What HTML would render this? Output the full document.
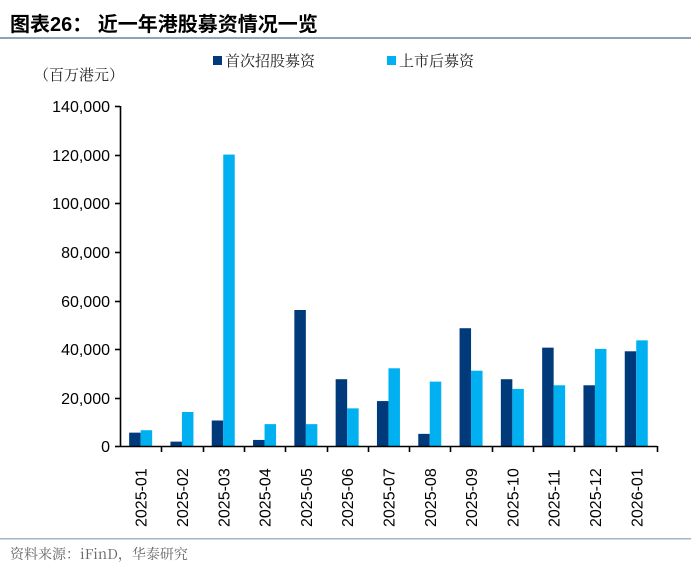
<!DOCTYPE html>
<html><head><meta charset="utf-8"><style>
html,body{margin:0;padding:0;background:#fff;}
svg{display:block;font-family:"Liberation Sans","Noto Sans CJK SC",sans-serif;}
</style></head><body>
<svg width="691" height="575" viewBox="0 0 691 575" xmlns="http://www.w3.org/2000/svg">
<text x="10" y="31" font-size="20" font-weight="bold" fill="#000" font-family="'Liberation Sans','Noto Sans CJK SC',sans-serif">图表26：  近一年港股募资情况一览</text>
<rect x="0" y="37" width="691" height="2" fill="#8EA2BC"/>
<rect x="0" y="538" width="691" height="1.5" fill="#A6B4C8"/>
<text x="34" y="80" font-size="15" fill="#222" font-family="'Noto Serif CJK SC',serif">（百万港元）</text>
<rect x="213" y="56" width="9" height="9" fill="#003A7A"/>
<text x="225" y="66" font-size="15" fill="#222" font-family="'Noto Serif CJK SC',serif">首次招股募资</text>
<rect x="387" y="56" width="9" height="9" fill="#00B0F0"/>
<text x="399" y="66" font-size="15" fill="#222" font-family="'Noto Serif CJK SC',serif">上市后募资</text>
<g font-size="16" fill="#000" text-anchor="end">
<text x="110" y="452">0</text>
<text x="110" y="404">20,000</text>
<text x="110" y="355">40,000</text>
<text x="110" y="307">60,000</text>
<text x="110" y="258">80,000</text>
<text x="110" y="209">100,000</text>
<text x="110" y="161">120,000</text>
<text x="110" y="112">140,000</text>
</g>
<g id="bars"></g>
<g stroke="#000" stroke-width="1.6">
<line x1="120.5" y1="106" x2="120.5" y2="447"/>
<line x1="115" y1="446.5" x2="120" y2="446.5"/>
<line x1="115" y1="398.5" x2="120" y2="398.5"/>
<line x1="115" y1="349.5" x2="120" y2="349.5"/>
<line x1="115" y1="301.5" x2="120" y2="301.5"/>
<line x1="115" y1="252.5" x2="120" y2="252.5"/>
<line x1="115" y1="203.5" x2="120" y2="203.5"/>
<line x1="115" y1="155.5" x2="120" y2="155.5"/>
<line x1="115" y1="106.5" x2="120" y2="106.5"/>
<line x1="120" y1="446.5" x2="657" y2="446.5"/>
</g>
<g id="labels" font-size="16" fill="#000"></g>
<text x="10" y="559" font-size="14" fill="#666" font-family="'Noto Serif CJK SC',serif">资料来源：iFinD，华泰研究</text>
<script>
var d=[[5.5,6.5],[1.8,14],[10.5,120],[2.5,9],[56,9],[27.5,15.5],[18.5,32],[5,26.5],[48.5,31],[27.5,23.5],[40.5,25],[25,40],[39,43.5]];
var lab=["2025-01","2025-02","2025-03","2025-04","2025-05","2025-06","2025-07","2025-08","2025-09","2025-10","2025-11","2025-12","2026-01"];
var ns="http://www.w3.org/2000/svg",b=document.getElementById("bars"),l=document.getElementById("labels"),ax=document.querySelector("g[stroke]");
var w=41.3,k=340/140;
for(var i=0;i<13;i++){var c=120+w*(i+.5);
[[d[i][0],c-11.5,"#003A7A"],[d[i][1],c,"#00B0F0"]].forEach(function(v){var r=document.createElementNS(ns,"rect");var h=v[0]*k;r.setAttribute("x",v[1]);r.setAttribute("y",446-h);r.setAttribute("width",11.5);r.setAttribute("height",h);r.setAttribute("fill",v[2]);b.appendChild(r);});
var t=document.createElementNS(ns,"line");var xx=Math.round(120+w*(i+1))+.5;t.setAttribute("x1",xx);t.setAttribute("x2",xx);t.setAttribute("y1",446);t.setAttribute("y2",452);ax.appendChild(t);
var tx=document.createElementNS(ns,"text");tx.setAttribute("transform","translate("+(c+6)+",527) rotate(-90)");tx.textContent=lab[i];l.appendChild(tx);}
</script>
</svg>
</body></html>
